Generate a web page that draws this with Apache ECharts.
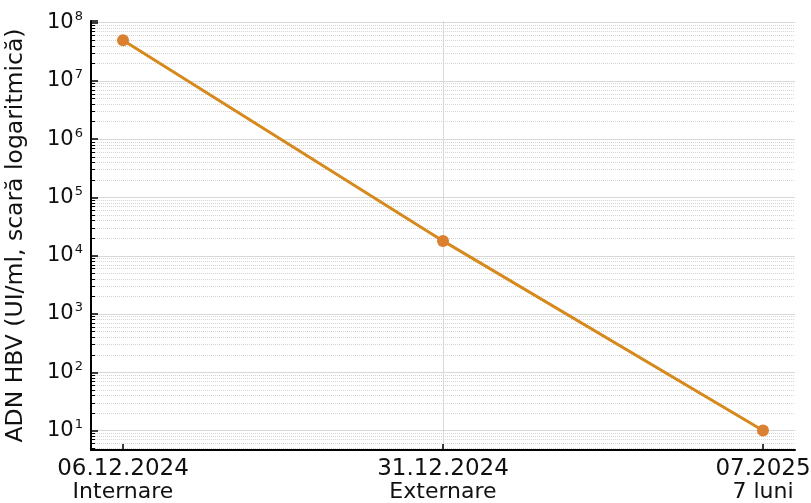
<!DOCTYPE html>
<html>
<head>
<meta charset="utf-8">
<script src="https://cdn.jsdelivr.net/npm/echarts@6/dist/echarts.min.js"></script>
<style>
html,body{margin:0;padding:0;background:#fff;}
#chart{width:811px;height:503px;}
</style>
</head>
<body>
<div id="chart"></div>
<script>
// ---- data ----
const categories = ['06.12.2024', '31.12.2024', '07.2025'];
const subLabels = ['Internare', 'Externare', '7 luni'];
const hbvDna = [5e7, 1.8e4, 10];
const yAxisTitle = 'ADN HBV (UI/ml, scară logaritmică)';

const FONT = 'DejaVu Sans';
const seriesData = categories.map((c, i) => [i, hbvDna[i]]);
const xIdx = categories.map((c, i) => i);

const chart = echarts.init(document.getElementById('chart'), null, {renderer: 'canvas'});
chart.setOption({
  backgroundColor: '#ffffff',
  animation: false,
  grid: {left: 91, right: 16, top: 21, bottom: 53, containLabel: false, outerBoundsMode: 'none'},
  xAxis: {
    type: 'value',
    position: 'bottom',
    min: -0.1,
    max: 2.1,
    splitNumber: 2,
    axisLine: {show: true, onZero: false, lineStyle: {color: '#000', width: 2}},
    axisTick: {show: true, inside: true, length: 6, customValues: xIdx, lineStyle: {color: '#000', width: 1.5}},
    axisLabel: {
      show: true,
      customValues: xIdx,
      margin: 8,
      formatter: function (v) {
        const i = Math.round(v);
        if (Math.abs(v - i) > 1e-6 || i < 0 || i >= categories.length) return '';
        return '{a|' + categories[i] + '}\n{b|' + subLabels[i] + '}';
      },
      rich: {
        a: {fontFamily: FONT, fontSize: 23, color: '#111', lineHeight: 23},
        b: {fontFamily: FONT, fontSize: 22, color: '#111', lineHeight: 23}
      }
    },
    splitLine: {show: true, showMinLine: false, showMaxLine: false, lineStyle: {color: '#d8d8d8', width: 1}}
  },
  yAxis: {
    type: 'log',
    position: 'left',
    logBase: 10,
    min: 4.64,
    max: 1.07e8,
    name: yAxisTitle,
    nameLocation: 'middle',
    nameGap: 63,
    nameTextStyle: {fontFamily: FONT, fontSize: 23.5, color: '#111'},
    axisLine: {show: true, onZero: false, lineStyle: {color: '#000', width: 2}},
    axisTick: {show: true, inside: true, length: 7, lineStyle: {color: '#000', width: 1.5}},
    minorTick: {show: true, splitNumber: 9, length: 4, lineStyle: {color: '#000', width: 1}},
    axisLabel: {
      show: true,
      showMinLabel: false,
      showMaxLabel: false,
      margin: 8,
      formatter: function (v) {
        const e = Math.round(Math.log10(v));
        if (Math.abs(Math.log10(v) - e) > 1e-6) return '';
        return '{b|10}{e|' + e + '}';
      },
      rich: {
        b: {fontFamily: FONT, fontSize: 21, color: '#111'},
        e: {fontFamily: FONT, fontSize: 13, color: '#111', padding: [0, 0, 12, 1]}
      }
    },
    splitLine: {show: true, showMinLine: false, showMaxLine: false, lineStyle: {color: '#d8d8d8', width: 1}},
    minorSplitLine: {show: true, lineStyle: {color: '#d4d4d4', width: 1, type: 'dotted'}}
  },
  series: [{
    type: 'line',
    data: seriesData,
    symbol: 'circle',
    symbolSize: 12,
    lineStyle: {color: '#D68A1E', width: 3},
    itemStyle: {color: '#DA8030'},
    z: 5
  }]
});
</script>
</body>
</html>
